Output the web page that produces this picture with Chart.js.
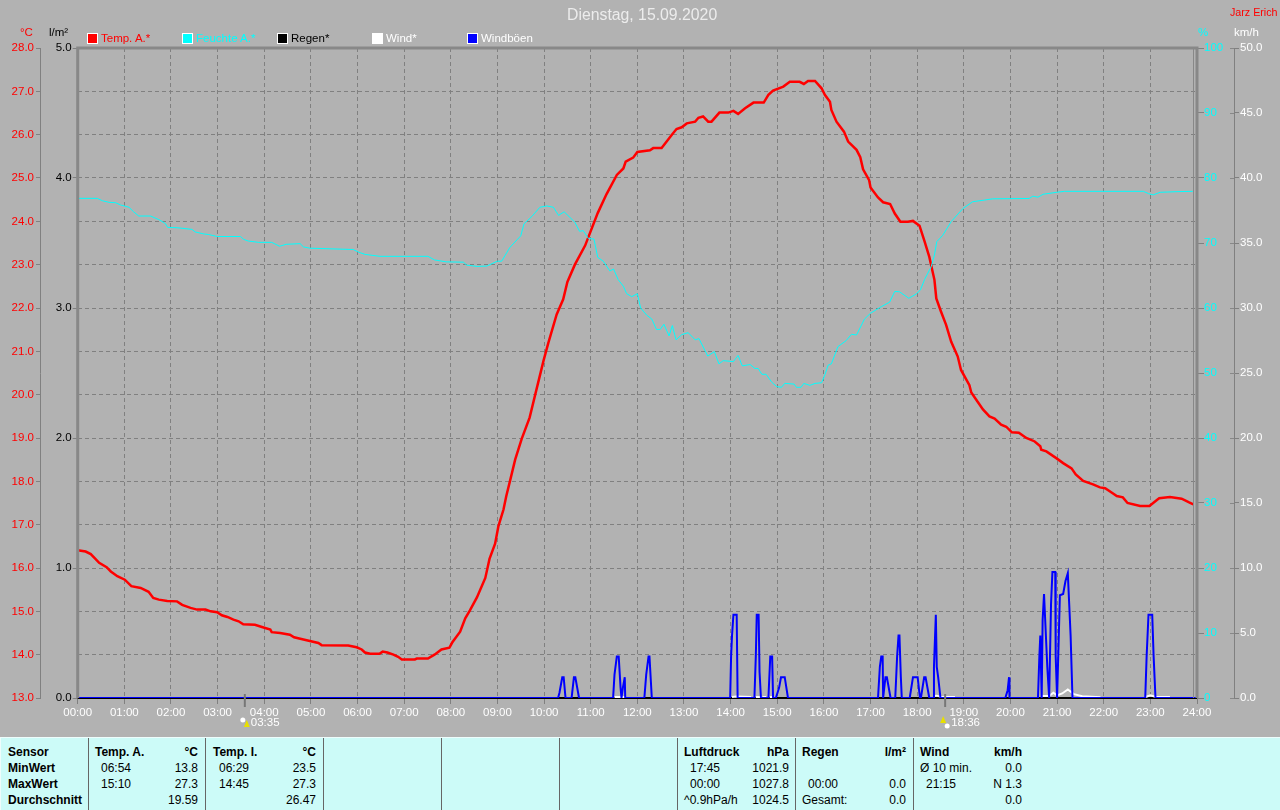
<!DOCTYPE html>
<html>
<head>
<meta charset="utf-8">
<title>Dienstag, 15.09.2020</title>
<script src="https://cdn.jsdelivr.net/npm/chart.js@4"></script>
<style>
  html, body { margin: 0; padding: 0; width: 1280px; height: 810px; overflow: hidden; background: #b2b2b2; font-family: "Liberation Sans", sans-serif; }
  #wx { position: absolute; left: 0; top: 0; }
  .t { position: absolute; font-size: 11.5px; line-height: 14px; white-space: nowrap; }
  .sw { position: absolute; width: 9px; height: 9px; border: 1px solid #fff; }
  #tbl { position: absolute; left: 0; top: 737px; width: 1280px; height: 73px; background: #ccfbf8; box-shadow: inset 1px 1px #eefdfc; }
  #tbl .t { font-size: 12px; color: #000; }
  #tbl .b { font-weight: bold; }
  #tbl .v { position: absolute; top: 1px; width: 1px; height: 72px; background: #666; }
</style>
</head>
<body>
<canvas id="wx" width="1280" height="738"></canvas>
<div id="labels"></div>
<div id="tbl"></div>
<script>
const titleText = 'Dienstag, 15.09.2020';
const authorText = 'Jarz Erich';
const seriesNames = ['Temp. A.*', 'Feuchte A.*', 'Regen*', 'Wind*', 'Windböen'];
const seriesColors = ['#ff0000', '#00ffff', '#000000', '#ffffff', '#0000ff'];
const seriesTextColors = ['#ff0000', '#00ffff', '#000000', '#ffffff', '#ffffff'];

const tempHours = [0,0.17,0.28,0.38,0.46,0.62,0.71,0.85,1.01,1.15,1.35,1.52,1.62,1.74,1.92,2.13,2.24,2.42,2.56,2.74,2.85,2.99,3.09,3.21,3.34,3.45,3.55,3.8,3.95,4.13,4.16,4.34,4.55,4.64,4.84,5.16,5.23,5.8,5.98,6.09,6.16,6.27,6.47,6.54,6.64,6.77,6.87,6.95,7.23,7.27,7.51,7.65,7.8,7.97,8.03,8.2,8.31,8.41,8.56,8.74,8.83,8.95,9.02,9.13,9.19,9.27,9.38,9.52,9.69,9.81,9.86,9.99,10.09,10.27,10.41,10.5,10.66,10.88,11.15,11.34,11.56,11.7,11.75,11.91,12,12.27,12.34,12.52,12.74,12.84,12.95,13.06,13.24,13.31,13.41,13.52,13.59,13.76,13.95,14.06,14.16,14.31,14.49,14.71,14.81,14.91,15.13,15.27,15.48,15.57,15.66,15.81,15.95,16.02,16.13,16.16,16.27,16.43,16.52,16.7,16.78,16.84,16.97,17,17.16,17.27,17.42,17.52,17.64,17.8,17.91,18.05,18.16,18.26,18.37,18.41,18.51,18.62,18.73,18.87,18.94,19.12,19.16,19.3,19.41,19.55,19.66,19.8,19.91,20.03,20.18,20.34,20.52,20.64,20.66,20.77,20.99,21.13,21.31,21.4,21.56,21.77,21.92,22.03,22.2,22.28,22.41,22.51,22.78,22.98,23.14,23.19,23.42,23.67,23.82,23.92];
const tempValues = [16.41,16.38,16.32,16.21,16.12,16.02,15.92,15.81,15.73,15.58,15.54,15.45,15.31,15.27,15.24,15.23,15.15,15.08,15.04,15.04,15,14.98,14.91,14.87,14.81,14.77,14.7,14.69,14.64,14.58,14.52,14.5,14.46,14.4,14.35,14.27,14.22,14.21,14.17,14.12,14.05,14.02,14.02,14.07,14.05,14,13.95,13.89,13.89,13.91,13.91,14,14.12,14.16,14.28,14.53,14.84,15.02,15.32,15.77,16.21,16.56,16.96,17.35,17.66,18.01,18.5,18.98,19.47,20,20.22,20.79,21.19,21.85,22.2,22.6,23,23.44,24.19,24.63,25.07,25.22,25.38,25.47,25.6,25.64,25.69,25.69,26,26.13,26.17,26.26,26.3,26.39,26.42,26.3,26.3,26.51,26.51,26.55,26.48,26.61,26.74,26.74,26.92,27.02,27.11,27.22,27.22,27.17,27.24,27.24,27.07,26.92,26.76,26.57,26.3,26.07,25.84,25.65,25.48,25.2,24.95,24.78,24.55,24.44,24.4,24.18,23.99,23.99,24.01,23.9,23.53,23.18,22.65,22.22,21.92,21.61,21.22,20.88,20.57,20.22,20.05,19.83,19.66,19.5,19.45,19.31,19.26,19.13,19.12,19,18.92,18.81,18.73,18.69,18.53,18.42,18.3,18.16,18.01,17.93,17.86,17.84,17.72,17.66,17.63,17.5,17.43,17.43,17.57,17.61,17.64,17.6,17.52,17.47];

const humHours = [0,0.42,0.53,0.67,0.81,0.92,1.1,1.2,1.31,1.56,1.74,1.88,1.93,2.13,2.45,2.52,2.7,2.81,2.99,3.49,3.56,3.66,3.88,4.16,4.33,4.47,4.77,4.84,4.98,5.91,6.02,6.16,6.48,7.51,7.65,7.9,8.27,8.34,8.56,8.77,9,9.09,9.27,9.5,9.57,9.74,9.91,10.06,10.2,10.31,10.43,10.66,10.76,10.84,10.95,11.07,11.15,11.27,11.41,11.49,11.59,11.7,11.77,11.88,12,12.07,12.2,12.31,12.41,12.49,12.57,12.68,12.75,12.83,12.95,13.09,13.24,13.32,13.51,13.65,13.75,13.84,14.06,14.16,14.25,14.42,14.52,14.59,14.67,14.76,14.88,14.99,15.09,15.16,15.36,15.41,15.51,15.57,15.7,15.81,15.95,16.02,16.09,16.16,16.3,16.48,16.59,16.7,16.87,17,17.23,17.41,17.52,17.62,17.82,17.98,18.07,18.16,18.3,18.37,18.42,18.55,18.73,18.98,19.19,19.44,19.62,20.4,20.48,20.59,20.7,20.99,21.16,22.85,22.96,23.06,23.21,23.57,23.91];
const humValues = [76.87,76.87,76.5,76.26,76.2,75.85,75.5,74.8,74.15,74.15,73.6,73,72.4,72.35,72.1,71.7,71.4,71.3,71,71,70.56,70.3,70.1,70.1,69.5,69.8,69.9,69.4,69.2,69,68.6,68.25,67.95,67.95,67.4,67.1,67.05,66.6,66.4,66.45,67.2,67.2,69.35,71.1,72.95,74.1,75.5,75.7,75.5,74.25,74.8,73.2,71.8,71.9,70.7,70.6,67.8,67.2,65.7,66,64.35,63.35,62.2,61.75,62.2,60,58.9,58.3,56.7,56.7,57.5,55.7,57.3,55.1,55.9,56.2,55.1,55.3,52.6,53.3,51.4,51.9,51.75,52.7,51.1,51.3,50.7,50.7,49.8,49.8,48.6,47.9,47.8,48.4,48.3,47.8,47.8,48.4,48.1,48.4,48.5,49.7,51.2,51.4,54.05,55,55.95,55.85,58.3,59.2,60.2,60.9,62.55,62.5,61.5,62.15,62.8,64.4,66.35,68.15,70.2,71.2,73.3,75.3,76.35,76.6,76.8,76.85,77.2,77.05,77.5,77.8,77.95,77.95,77.6,77.4,77.8,77.9,77.95];

const rainHours = [0, 24];
const rainValues = [0, 0];

const gustHours = [0,10.3,10.33,10.39,10.42,10.46,10.59,10.64,10.67,10.75,11.48,11.51,11.56,11.6,11.64,11.66,11.69,11.73,11.74,12.15,12.19,12.24,12.26,12.31,13.99,14.01,14.03,14.06,14.13,14.15,14.51,14.54,14.56,14.6,14.62,14.65,14.81,14.85,14.89,14.91,14.97,15.04,15.08,15.16,15.23,17.16,17.2,17.23,17.26,17.27,17.32,17.35,17.43,17.53,17.57,17.6,17.62,17.65,17.67,17.84,17.91,18.01,18.06,18.08,18.15,18.18,18.26,18.35,18.36,18.4,18.42,18.45,18.5,19.89,19.94,19.97,19.98,20.59,20.62,20.64,20.67,20.69,20.72,20.74,20.79,20.83,20.87,20.9,20.96,20.97,21,21.03,21.06,21.13,21.18,21.23,21.26,21.29,21.33,22.89,22.92,22.96,23.04,23.07,23.11,24];
const gustValues = [0,0,0.4,1.6,1.6,0,0,1.6,1.6,0,0,1.8,3.2,3.2,0.8,0,0.8,1.6,0,0,1.8,3.2,3.2,0,0,3.2,4.8,6.4,6.4,0,0,3.2,6.4,6.4,2,0,0,3.2,3.2,0,0,0.8,1.6,1.6,0,0,2.4,3.2,3.2,0,1.6,1.6,0,0,3.2,4.8,4.8,1.6,0,0,1.6,1.6,0,0,1.6,1.6,0,0,2.4,6.4,2.4,1.6,0,0,0.6,1.6,0,0,3.2,4.8,0,6,8,8,2.4,0,7.2,9.7,9.7,3.2,0,3.9,7.9,8,9,9.6,7.2,4.8,0,0,3.2,6.4,6.4,3.2,0,0];

const windHours = [11.51,11.75,null,14.03,14.12,14.44,null,14.54,14.68,null,14.69,14.76,null,14.84,14.91,null,18.36,18.42,18.52,18.81,null,20.67,20.83,20.92,21,21.11,21.23,21.36,21.54,21.93,null,22.9,23,23.1,23.42];
const windValues = [0.08,0.08,null,0.08,0.12,0.08,null,0.08,0.08,null,0.08,0.08,null,0.08,0.08,null,0.15,0.18,0.08,0.08,null,0.15,0.15,0.4,0.2,0.35,0.65,0.3,0.13,0.05,null,0.08,0.2,0.1,0.08];

const sunEvents = [3 + 35 / 60, 18 + 36 / 60];
const sunLabels = ['03:35', '18:36'];

const sensorRows = ['Sensor', 'MinWert', 'MaxWert', 'Durchschnitt'];
const tempARows = [['Temp. A.', '°C'], ['06:54', '13.8'], ['15:10', '27.3'], ['', '19.59']];
const tempIRows = [['Temp. I.', '°C'], ['06:29', '23.5'], ['14:45', '27.3'], ['', '26.47']];
const pressRows = [['Luftdruck', 'hPa'], ['17:45', '1021.9'], ['00:00', '1027.8'], ['^0.9hPa/h', '1024.5']];
const rainRows = [['Regen', 'l/m²'], ['', ''], ['00:00', '0.0'], ['Gesamt:', '0.0']];
const windRows = [['Wind', 'km/h'], ['Ø 10 min.', '0.0'], ['21:15', 'N 1.3'], ['', '0.0']];

const zip = (xs, ys) => xs.map((x, i) => ({ x: x === null ? NaN : x, y: ys[i] }));
const pad2 = n => String(n).padStart(2, '0');

const labelsEl = document.getElementById('labels');
function addText(parent, txt, x, y, color, extra) {
  const el = document.createElement('div');
  el.className = 't';
  el.textContent = txt;
  el.style.left = x + 'px';
  el.style.top = (y - 7) + 'px';
  if (color) el.style.color = color;
  if (extra) Object.assign(el.style, extra);
  parent.appendChild(el);
  return el;
}

// header and legend
addText(labelsEl, titleText, 567, 15, '#ececec', { fontSize: '15.8px' });
addText(labelsEl, authorText, 1230, 12, '#ff0000', { fontSize: '10.7px' });
addText(labelsEl, '°C', 20, 32, '#ff0000');
addText(labelsEl, 'l/m²', 49, 32, '#000000');
addText(labelsEl, '%', 1198, 32, '#00ffff');
addText(labelsEl, 'km/h', 1234, 32, '#ffffff');
const legendX = [87, 182, 277, 372, 467];
seriesNames.forEach((name, i) => {
  const sw = document.createElement('div');
  sw.className = 'sw';
  sw.style.left = legendX[i] + 'px';
  sw.style.top = '33px';
  sw.style.background = seriesColors[i];
  labelsEl.appendChild(sw);
  addText(labelsEl, name, legendX[i] + 14, 38, seriesTextColors[i]);
});

// min/max table at the bottom
const tbl = document.getElementById('tbl');
const rowY = [15, 31, 47, 63];
[88, 205, 323, 441, 559, 677, 795, 913].forEach(x => {
  const v = document.createElement('div');
  v.className = 'v';
  v.style.left = x + 'px';
  tbl.appendChild(v);
});
sensorRows.forEach((s, i) => addText(tbl, s, 8, rowY[i]).classList.add('b'));
function addBlock(rows, left, right) {
  rows.forEach((r, i) => {
    const indent = /^\d\d:\d\d/.test(r[0]) ? 6 : 0;
    const a = addText(tbl, r[0], left + indent, rowY[i]);
    const b = addText(tbl, r[1], 0, rowY[i], null, { left: 'auto', right: (1280 - right) + 'px' });
    if (i === 0) { a.classList.add('b'); b.classList.add('b'); }
  });
}
addBlock(tempARows, 95, 198);
addBlock(tempIRows, 213, 316);
addBlock(pressRows, 684, 789);
addBlock(rainRows, 802, 906);
addBlock(windRows, 920, 1022);

// plot frame, sunrise / sunset marks, left half of the km/h ticks
const framePlugin = {
  id: 'frame',
  afterDraw(chart) {
    const { ctx, chartArea: a, scales } = chart;
    ctx.save();
    ctx.strokeStyle = '#888888';
    ctx.lineWidth = 3;
    ctx.beginPath();
    ctx.moveTo(a.left, a.bottom); ctx.lineTo(a.left, a.top); ctx.lineTo(a.right, a.top); ctx.lineTo(a.right, a.bottom);
    ctx.stroke();
    ctx.lineWidth = 1;
    ctx.beginPath();
    ctx.moveTo(a.right - 3.5, a.top); ctx.lineTo(a.right - 3.5, a.bottom);
    ctx.stroke();
    scales.yW.ticks.forEach(t => {
      const y = Math.round(scales.yW.getPixelForValue(t.value)) + 0.5;
      ctx.beginPath(); ctx.moveTo(1230, y); ctx.lineTo(1234, y); ctx.stroke();
    });
    sunEvents.forEach((h, i) => {
      const x = scales.x.getPixelForValue(h);
      ctx.strokeStyle = '#777777';
      ctx.lineWidth = 2;
      ctx.beginPath(); ctx.moveTo(x, 694); ctx.lineTo(x, 707); ctx.stroke();
      const sunX = i === 0 ? x - 2 : x + 2;
      const sunY = i === 0 ? 720 : 726;
      const arrowX = i === 0 ? x + 2 : x - 2;
      const arrowY = i === 0 ? 724 : 720;
      ctx.fillStyle = '#ffffff';
      ctx.beginPath(); ctx.arc(sunX, sunY, 2.5, 0, Math.PI * 2); ctx.fill();
      ctx.fillStyle = '#e8e000';
      ctx.beginPath(); ctx.moveTo(arrowX, arrowY - 4); ctx.lineTo(arrowX + 3, arrowY + 3); ctx.lineTo(arrowX - 3, arrowY + 3); ctx.fill();
      ctx.fillStyle = '#ffffff';
      ctx.font = '11.5px "Liberation Sans"';
      ctx.textBaseline = 'middle';
      ctx.fillText(sunLabels[i], x + 6, 723);
    });
    ctx.restore();
  }
};

const axisFont = { family: '"Liberation Sans"', size: 11.5 };
const sideAxis = (position, weight, width, min, max, step, color, tick, pad, fmt) => ({
  type: 'linear', position, weight, min, max,
  afterFit: s => { s.width = width; },
  border: { color: '#808080', width: 1 },
  grid: { drawOnChartArea: false, tickLength: tick, tickColor: '#808080' },
  ticks: { stepSize: step, color, font: axisFont, padding: pad, autoSkip: false, callback: fmt }
});

new Chart(document.getElementById('wx'), {
  type: 'line',
  data: {
    datasets: [
      { label: seriesNames[4], data: zip(gustHours, gustValues), yAxisID: 'yW', borderColor: seriesColors[4], borderWidth: 2 },
      { label: seriesNames[3], data: zip(windHours, windValues), yAxisID: 'yW', borderColor: seriesColors[3], borderWidth: 2 },
      { label: seriesNames[2], data: zip(rainHours, rainValues), yAxisID: 'yR', borderColor: seriesColors[2], borderWidth: 2, clip: false },
      { label: seriesNames[1], data: zip(humHours, humValues), yAxisID: 'yH', borderColor: seriesColors[1], borderWidth: 1 },
      { label: seriesNames[0], data: zip(tempHours, tempValues), yAxisID: 'yT', borderColor: seriesColors[0], borderWidth: 2.5 }
    ]
  },
  options: {
    responsive: false,
    devicePixelRatio: 1,
    animation: false,
    spanGaps: false,
    layout: { padding: { top: 48 } },
    elements: { point: { radius: 0 }, line: { tension: 0 } },
    plugins: { legend: { display: false }, tooltip: { enabled: false } },
    scales: {
      x: {
        type: 'linear', min: 0, max: 24,
        afterFit: s => { s.height = 40; },
        border: { display: false, dash: [4, 3] },
        grid: { color: '#808080', tickLength: 6, tickColor: '#808080' },
        ticks: { stepSize: 1, color: '#ffffff', font: axisFont, padding: 2, autoSkip: false, maxRotation: 0, callback: v => pad2(v) + ':00' }
      },
      yT: {
        type: 'linear', position: 'left', weight: 2, min: 13, max: 28,
        afterFit: s => { s.width = 40; },
        border: { color: '#808080', width: 1, dash: [4, 3] },
        grid: { color: '#808080', tickLength: 4, tickColor: '#808080' },
        ticks: { stepSize: 1, color: '#ff0000', font: axisFont, padding: 2, autoSkip: false, callback: v => v.toFixed(1) }
      },
      yR: sideAxis('left', 1, 37.7, 0, 5, 1, '#000000', 5, 1, v => v.toFixed(1)),
      yH: sideAxis('right', 1, 37, 0, 100, 10, '#00ffff', 7, 0, v => String(v)),
      yW: sideAxis('right', 2, 46, 0, 50, 5, '#ffffff', 5, 1, v => v.toFixed(1))
    }
  },
  plugins: [framePlugin]
});
</script>
</body>
</html>
